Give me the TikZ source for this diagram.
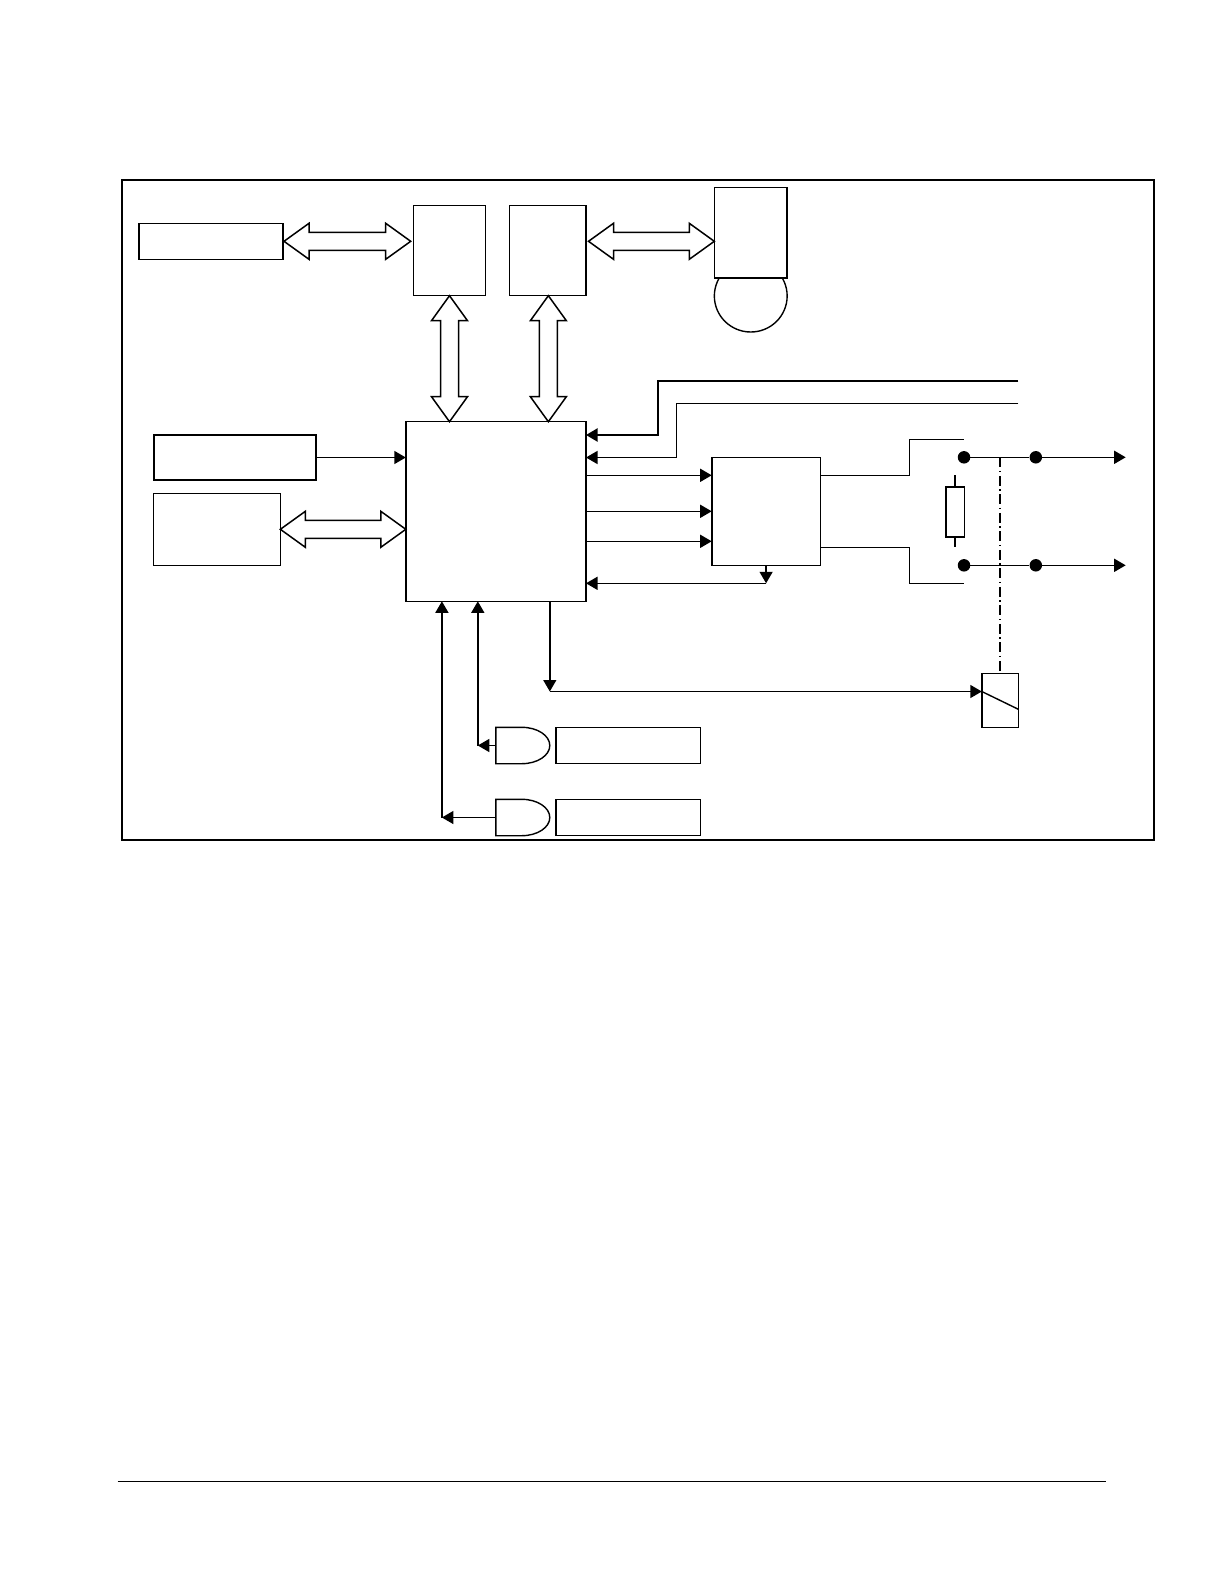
\documentclass[tikz,border=0pt]{standalone}
\usepackage{tikz}
\usetikzlibrary{arrows.meta,calc}

\tikzset{
  box/.style = {draw, inner sep = 0, outer sep = 0, line width = 1.4pt},
  heavy/.style = {box, line width = 1.6pt},
  dot/.style = {circle, fill = black, inner sep = 0, minimum size = 12.5pt},
  sig/.style = {line width = 1.4pt, -{Triangle[length = 11.5pt, width = 13pt]}},
  wire/.style = {line width = 1.4pt},
  busline/.style = {line width = 1.5pt, line join = miter, fill = white}
}
% hollow double headed bus between two named points
\newcommand{\busarrow}[2]{\draw[busline] (#1)
  -- ($(#1)!25pt!(#2)!18pt!90:(#2)$) -- ($(#1)!25pt!(#2)!9pt!90:(#2)$)
  -- ($(#2)!25pt!(#1)!9pt!-90:(#1)$) -- ($(#2)!25pt!(#1)!18pt!-90:(#1)$)
  -- (#2)
  -- ($(#2)!25pt!(#1)!18pt!90:(#1)$) -- ($(#2)!25pt!(#1)!9pt!90:(#1)$)
  -- ($(#1)!25pt!(#2)!9pt!-90:(#2)$) -- ($(#1)!25pt!(#2)!18pt!-90:(#2)$)
  -- cycle;}

\begin{document}
\begin{tikzpicture}[x = 1pt, y = -1pt]
  \useasboundingbox (0,0) rectangle (1224,1584);
  \node[draw, line width = 2.2pt, inner sep = 0, minimum width = 1032pt, minimum height = 660pt] (frame) at (638,510) {};
  % boxes
  \node[box, line width = 1.6pt, minimum width = 144.3pt, minimum height = 36pt] (rtc) at (210.85,241.3) {};
  \node[box, minimum width = 72.4pt, minimum height = 90.4pt] (ram) at (449.5,250.5) {};
  \node[box, minimum width = 76.7pt, minimum height = 90.4pt] (rom) at (547.65,250.5) {};
  \node[box, line width = 1.5pt, minimum width = 180.2pt, minimum height = 179.6pt] (mcu) at (495.9,511.5) {};
  \node[heavy, line width = 1.9pt, minimum width = 162.2pt, minimum height = 45pt] (keys) at (235.1,457.5) {};
  \node[box, line width = 1.6pt, minimum width = 126.7pt, minimum height = 72pt] (lcd) at (217,529.3) {};
  \draw[wire] (750.75,296) circle [x radius = 36.4pt, y radius = 36pt];
  \node[heavy, fill = white, minimum width = 72.9pt, minimum height = 90.4pt] (card) at (750.75,232.5) {};
  \node[heavy, minimum width = 108.8pt, minimum height = 108pt] (drv) at (766.1,511.3) {};
  \node[heavy, minimum width = 18.5pt, minimum height = 50pt] (res) at (955.15,511.7) {};
  \node[heavy, minimum width = 36.6pt, minimum height = 54pt] (coil) at (1000.1,700.3) {};
  \foreach \y/\nm in {745.5/a, 817.5/b}
  {\node[box, minimum width = 144.7pt, minimum height = 36.4pt] (sw\nm) at (628.25,\y) {};
   \draw[wire] (521.8,\y+18.2) -- (495.8,\y+18.2) -- (495.8,\y-18.2) -- (521.8,\y-18.2) arc (90:-90:28pt and 18.2pt);
   \coordinate (gate\nm) at (495.8,\y);}
  % buses
  \coordinate (rtcend) at ([xshift = 1pt]rtc.east);
  \coordinate (ramend) at ([xshift = -2.6pt]ram.west |- rtc.east);
  \busarrow{rtcend}{ramend}
  \coordinate (romend) at ([xshift = 2.5pt]rom.east |- rtc.east);
  \coordinate (cardend) at (card.west |- rtc.east);
  \busarrow{romend}{cardend}
  \coordinate (ramtop) at (mcu.north -| ram.south);
  \busarrow{ram.south}{ramtop}
  \coordinate (rombase) at ([xshift = .7pt]rom.south);
  \coordinate (romtop) at (mcu.north -| rombase);
  \busarrow{rombase}{romtop}
  \coordinate (mculeft) at (mcu.west |- lcd.east);
  \busarrow{lcd.east}{mculeft}
  % signals
  \draw[sig] (keys.east) -- (mcu.west |- keys.east);
  \coordinate (lonea) at (1018.4,381);
  \coordinate (loneb) at (658,381);
  \coordinate (ltwoa) at (1018.4,403.3);
  \coordinate (ltwob) at (676.2,403.3);
  \draw[sig, line width = 2pt] (lonea) -- (loneb) -- (loneb |- 0,435) -- (mcu.east |- 0,435);
  \draw[sig] (ltwoa) -- (ltwob) -- (ltwob |- keys.east) -- (mcu.east |- keys.east);
  \foreach \y in {475.3, 511.3, 541.3}
  \draw[sig] (mcu.east |- 0,\y) -- (drv.west |- 0,\y);
  \coordinate (fback) at (drv.south |- 0,583.3);
  \draw[sig] (drv.south) -- (fback);
  \draw[sig] (fback) -- (mcu.east |- fback);
  % outputs
  \node[dot] (cona) at (964,457.3) {};
  \node[dot] (conb) at (1035.8,457.3) {};
  \node[dot] (conc) at (964,565.3) {};
  \node[dot] (cond) at (1035.8,565.3) {};
  \coordinate (outa) at (1125.7,457.3);
  \coordinate (outb) at (1125.7,565.3);
  \draw[sig] (cona) -- (conb) -- (outa);
  \draw[sig] (conc) -- (cond) -- (outb);
  \draw[wire] (drv.east |- 0,475.3) -- (909.6,475.3) -- (909.6,439.3) -- (cona.center |- 0,439.3);
  \draw[wire] (drv.east |- 0,547.3) -- (909.6,547.3) -- (909.6,583.3) -- (conc.center |- 0,583.3);
  \draw[wire] (res.north) -- (res.center |- 0,475.3);
  \draw[wire] (res.south) -- (res.center |- 0,547.3);
  % coil and its link
  \coordinate (linktop) at (coil.north |- cona);
  \draw[wire, dash pattern = on 10pt off 3.5pt on 1.5pt off 3.5pt] (linktop) -- (coil.north);
  \coordinate (coilin) at (coil.west |- 0,691.5);
  \coordinate (coilout) at (coil.east |- 0,709.3);
  \draw[wire] (coilin) -- (coilout);
  \coordinate (trip) at (549.8,691.5);
  \draw[sig] (mcu.south -| trip) -- (trip);
  \draw[sig] (trip) -- (coilin);
  % gates to mcu
  \coordinate (linea) at (477.8,745.5);
  \coordinate (lineb) at (441.9,817.5);
  \draw[sig] (gatea) -- (linea);
  \draw[sig] (gateb) -- (lineb);
  \draw[sig] (linea) -- (mcu.south -| linea);
  \draw[sig] (lineb) -- (mcu.south -| lineb);
  % page rule
  \coordinate (rulea) at (117.7,1481.3);
  \coordinate (ruleb) at (1105.5,1481.3);
  \draw[line width = 1pt] (rulea) -- (ruleb);
\end{tikzpicture}
\end{document}
